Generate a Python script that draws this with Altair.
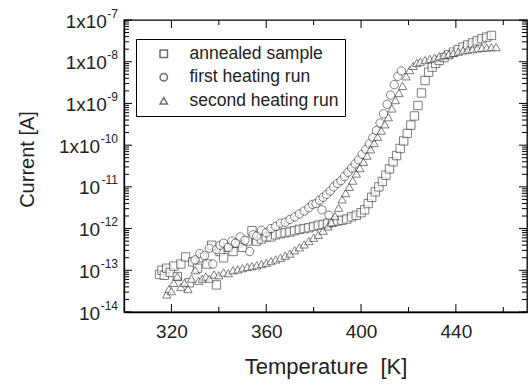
import altair as alt
import pandas as pd

# ---- data (temperature in K, log10 of current in A) ----
sq_T = [315.0, 316.0, 317.0, 318.0, 319.5, 321.0, 322.5, 324.0, 326.0, 327.5, 329.0, 331.0, 333.0, 335.0,
        337.0, 339.0, 340.5, 342.0, 344.0, 346.0, 348.0, 350.0, 352.0, 354.0, 356.0, 358.0, 360.0, 362.0,
        364.0, 366.0, 368.0, 370.0, 372.0, 374.0, 376.0, 378.0, 380.0, 382.0, 384.0, 386.0, 388.0, 390.0,
        392.0, 394.0, 396.0, 398.0, 400.0, 401.5, 403.0, 404.5, 406.0, 407.5, 409.0, 410.5, 412.0, 413.5,
        415.0, 416.5, 418.0, 419.5, 421.0, 422.5, 424.0, 425.5, 427.0, 428.5, 430.0, 431.5, 433.0, 435.0,
        437.0, 439.0, 441.0, 443.0, 445.0, 447.0, 449.0, 451.0, 453.0, 455.0]
sq_logI = [-13.10, -13.00, -13.12, -12.95, -13.05, -12.90, -13.15, -12.85, -12.68, -13.30, -12.80, -12.95, -12.70, -12.85,
           -12.40, -13.35, -12.55, -12.70, -12.45, -12.55, -12.35, -12.45, -12.30, -12.05, -12.30, -12.25, -12.20, -12.20,
           -12.15, -12.12, -12.10, -12.08, -12.05, -12.02, -12.00, -11.98, -11.95, -11.92, -11.90, -11.87, -11.85, -11.82,
           -11.80, -11.77, -11.72, -11.68, -11.62, -11.55, -11.40, -11.25, -11.12, -11.00, -10.87, -10.72, -10.57, -10.40,
           -10.25, -10.08, -9.90, -9.72, -9.52, -9.30, -9.05, -8.75, -8.45, -8.25, -8.13, -8.04, -7.97, -7.90,
           -7.83, -7.77, -7.71, -7.65, -7.60, -7.55, -7.50, -7.45, -7.41, -7.37]

ci_T = [330.0, 332.0, 334.0, 336.0, 337.5, 339.0, 340.5, 342.0, 344.0, 345.5, 347.0, 349.0, 351.0, 353.0,
        354.5, 356.0, 358.0, 360.0, 362.0, 364.0, 366.0, 368.0, 370.0, 372.0, 374.0, 376.0, 378.0, 379.5,
        381.0, 382.5, 383.5, 384.0, 385.5, 386.5, 387.0, 388.5, 390.0, 391.5, 393.0, 394.5, 396.0, 397.5,
        399.0, 400.5, 402.0, 403.5, 405.0, 406.5, 408.0, 409.5, 411.0, 412.5, 414.0, 415.5, 417.0]
ci_logI = [-12.75, -12.60, -12.65, -12.47, -12.85, -12.50, -12.40, -12.35, -12.45, -12.30, -12.35, -12.20, -12.28, -12.55,
           -12.15, -12.18, -12.04, -12.10, -12.00, -11.95, -11.87, -11.85, -11.78, -11.72, -11.65, -11.58, -11.50, -11.42,
           -11.40, -11.32, -11.55, -11.25, -11.18, -11.68, -11.10, -11.00, -10.92, -10.85, -10.75, -10.65, -10.55, -10.45,
           -10.35, -10.22, -10.10, -9.97, -9.82, -9.65, -9.47, -9.25, -9.02, -8.80, -8.55, -8.35, -8.22]

tr_T = [318.0, 319.0, 320.0, 321.0, 322.5, 324.0, 325.5, 327.0, 328.5, 330.0, 331.5, 333.0, 334.5, 336.0,
        338.0, 340.0, 342.0, 344.0, 346.0, 348.0, 350.0, 352.0, 354.0, 356.0, 358.0, 360.0, 362.0, 364.0,
        366.0, 368.0, 370.0, 372.0, 374.0, 376.0, 378.0, 380.0, 382.0, 384.0, 386.0, 387.5, 389.0, 390.5,
        392.0, 393.5, 395.0, 396.5, 398.0, 399.5, 401.0, 402.5, 404.0, 405.5, 407.0, 408.5, 410.0, 411.5,
        413.0, 414.5, 416.0, 417.5, 419.0, 420.5, 422.0, 423.5, 425.0, 427.0, 429.0, 431.0, 433.0, 435.0,
        437.0, 439.0, 441.0, 443.0, 445.0, 447.0, 449.0, 451.0, 453.0, 455.0, 457.0]
tr_logI = [-13.58, -13.45, -13.50, -13.30, -13.15, -13.40, -13.30, -13.45, -13.20, -13.00, -13.25, -13.20, -13.15, -13.20,
           -13.10, -13.12, -13.05, -13.07, -13.00, -12.98, -12.95, -12.92, -12.90, -12.88, -12.85, -12.82, -12.78, -12.74,
           -12.70, -12.65, -12.60, -12.52, -12.45, -12.38, -12.30, -12.22, -12.15, -12.05, -11.95, -11.85, -11.70, -11.50,
           -11.30, -11.15, -11.00, -10.85, -10.68, -10.55, -10.40, -10.25, -10.10, -9.95, -9.80, -9.65, -9.50, -9.33,
           -9.12, -8.92, -8.75, -8.58, -8.35, -8.20, -8.10, -8.03, -8.00, -7.96, -7.93, -7.90, -7.87, -7.84,
           -7.82, -7.79, -7.76, -7.73, -7.71, -7.70, -7.68, -7.67, -7.66, -7.65, -7.65]

series_names = ["annealed sample", "first heating run", "second heating run"]
series_shapes = ["square", "circle", "triangle-up"]

x_major = [320, 360, 400, 440]
x_minor = [340, 380, 420, 460]
y_exps = [-14, -13, -12, -11, -10, -9, -8, -7]
y_label_base = ["10", "10", "10", "10", "1x10", "1x10", "1x10", "1x10"]
y_label_sup = ["-14", "-13", "-12", "-11", "-10", "-9", "-8", "-7"]

# ---- tables ----
rows = []
for name, Ts, Ls in zip(series_names, [sq_T, ci_T, tr_T], [sq_logI, ci_logI, tr_logI]):
    for t, l in zip(Ts, Ls):
        rows.append({"series": name, "T": t, "I": 10.0 ** l})
df = pd.DataFrame(rows)

SUP_SIZE = 12
LAB_GAP = 6
def sup_width(s):
    return SUP_SIZE * (0.333 + 0.556 * (len(s) - 1))

y_major = [10.0 ** e for e in y_exps]
y_minor = [k * 10.0 ** e for e in y_exps[:-1] for k in range(2, 10)]
df_xmaj = pd.DataFrame({"T": x_major})
df_xmin = pd.DataFrame({"T": x_minor})
df_ymaj = pd.DataFrame({"I": y_major})
df_ymin = pd.DataFrame({"I": y_minor})
df_ylab = pd.DataFrame({
    "I": y_major,
    "base": y_label_base,
    "sup": y_label_sup,
    "bx": [-LAB_GAP - sup_width(s) - 0.5 for s in y_label_sup],
})

W, H = 403, 292
FONT = "Liberation Sans"
TXT = "#222222"

x_scale = alt.Scale(domain=[300, 470], nice=False, zero=False)
y_scale = alt.Scale(type="log", domain=[1e-14, 1e-7], nice=False)

x_axis = alt.Axis(values=x_major, title="Temperature\u00a0 [K]", ticks=False, tickSize=0, grid=False,
                  labelFont=FONT, labelFontSize=19, labelColor=TXT, labelPadding=10,
                  titleFont=FONT, titleFontSize=22, titleFontWeight="normal", titleColor=TXT,
                  titleY=61, titleBaseline="alphabetic",
                  domainColor="black", domainWidth=1.3)
y_axis = alt.Axis(values=y_major, labels=False, title="Current [A]", ticks=False, tickSize=0,
                  grid=False,
                  titleFont=FONT, titleFontSize=20, titleFontWeight="normal", titleColor=TXT,
                  titleX=-97, titleY=139, titleAlign="center", titleBaseline="middle", titleAngle=-90,
                  domainColor="black", domainWidth=1.3)

x_enc = alt.X("T:Q", scale=x_scale, axis=x_axis)
y_enc = alt.Y("I:Q", scale=y_scale, axis=y_axis)

points = alt.Chart(df).mark_point(filled=True, fill="white", stroke="#333333",
                                  strokeWidth=0.9, size=70).encode(
    x=x_enc, y=y_enc,
    shape=alt.Shape("series:N", scale=alt.Scale(domain=series_names, range=series_shapes),
                    legend=alt.Legend(title=None, orient="none", legendX=12, legendY=19,
                                      padding=6, strokeColor="black", fillColor="white",
                                      labelFont=FONT, labelFontSize=17.5, labelColor=TXT,
                                      labelExpr="datum.label + '\u00a0\u00a0\u00a0'",
                                      symbolSize=55, symbolOffset=13, labelOffset=17,
                                      rowPadding=4.5)),
)

def xticks(d, length):
    bottom = alt.Chart(d).mark_rule(color="black", strokeWidth=1).encode(
        x=x_enc, y=alt.value(H), y2=alt.value(H - length))
    top = alt.Chart(d).mark_rule(color="black", strokeWidth=1).encode(
        x=x_enc, y=alt.value(0), y2=alt.value(length))
    return [bottom, top]

def yticks(d, length):
    left = alt.Chart(d).mark_rule(color="black", strokeWidth=1).encode(
        y=y_enc, x=alt.value(0), x2=alt.value(length))
    right = alt.Chart(d).mark_rule(color="black", strokeWidth=1).encode(
        y=y_enc, x=alt.value(W), x2=alt.value(W - length))
    return [left, right]

ylab_base = alt.Chart(df_ylab).mark_text(align="right", baseline="alphabetic", dy=7.5,
                                         font=FONT, fontSize=19, color=TXT).encode(
    y=y_enc, x=alt.X("bx:Q", scale=None, axis=None), text="base:N")
ylab_sup = alt.Chart(df_ylab).mark_text(align="right", baseline="alphabetic", dy=-2.5,
                                        font=FONT, fontSize=SUP_SIZE, color=TXT).encode(
    y=y_enc, x=alt.value(-LAB_GAP), text="sup:N")

layers = ([points] + xticks(df_xmaj, 8) + xticks(df_xmin, 5) + yticks(df_ymaj, 8) + yticks(df_ymin, 5)
          + [ylab_base, ylab_sup])

chart = alt.layer(*layers).properties(
    width=W, height=H,
    autosize=alt.AutoSizeParams(type="none"),
    padding={"left": 124, "top": 20, "right": 2, "bottom": 73},
    background="white",
).configure_view(stroke="black", strokeWidth=1.3)

chart.save("out.html", embed_options={"renderer": "svg", "actions": False})
